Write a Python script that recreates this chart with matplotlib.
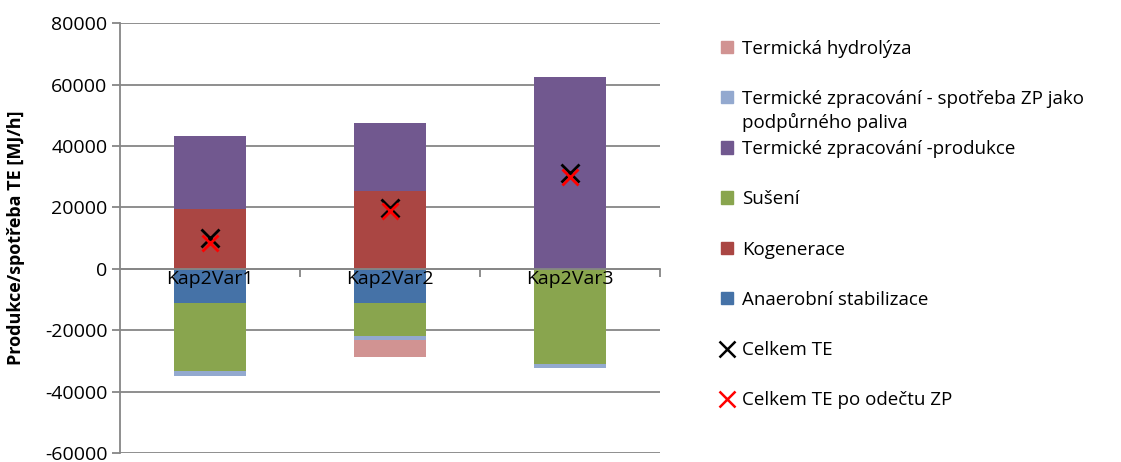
import matplotlib
matplotlib.use('Agg')
import matplotlib.pyplot as plt
from matplotlib.lines import Line2D
from matplotlib.patches import Patch
import numpy as np

plt.rcParams['font.family'] = ['Open Sans', 'DejaVu Sans']
plt.rcParams['axes.unicode_minus'] = False

# kategorie a hodnoty [MJ/h]
kategorie = ['Kap2Var1', 'Kap2Var2', 'Kap2Var3']
anaerobni = [-11200, -11200, 0]
kogenerace = [19600, 25400, 0]
suseni = [-22100, -10800, -31100]
produkce = [23750, 22100, 62300]
spotreba_zp = [-1700, -1100, -1300]
hydrolyza = [0, -5650, 0]
celkem_te = [10050, 19850, 31200]
celkem_po_zp = [8350, 18750, 29900]

serie = [
    ('Anaerobní stabilizace', anaerobni, '#4572A7'),
    ('Kogenerace', kogenerace, '#AA4643'),
    ('Sušení', suseni, '#89A54E'),
    ('Termické zpracování -produkce', produkce, '#71588F'),
    ('Termické zpracování - spotřeba ZP jako', spotreba_zp, '#93A9CF'),
    ('Termická hydrolýza', hydrolyza, '#D19392'),
]

fig = plt.figure(figsize=(11.21, 4.62), dpi=100)
ax = fig.add_axes([0.107, 0.0195, 0.482, 0.9305])

x = np.arange(len(kategorie))
pos = np.zeros(len(x))
neg = np.zeros(len(x))
for nazev, hodnoty, barva in serie:
    h = np.array(hodnoty, dtype=float)
    spodek = np.where(h >= 0, pos, neg)
    ax.bar(x, h, 0.4, bottom=spodek, color=barva, zorder=2)
    pos += np.where(h >= 0, h, 0)
    neg += np.where(h < 0, h, 0)

ax.plot(x, celkem_te, 'x', color='black', ms=13, mew=2, zorder=3)
ax.plot(x, celkem_po_zp, 'x', color='red', ms=12, mew=2, zorder=4)

ax.set_xlim(-0.5, 2.5)
ax.set_ylim(-60000, 80000)
ax.set_yticks(np.arange(-60000, 80001, 20000))
ax.yaxis.grid(True, color='#868686', lw=1.3, zorder=0)
ax.set_axisbelow(True)

for s in ['top', 'right']:
    ax.spines[s].set_visible(False)
ax.spines['left'].set_color('#868686')
ax.spines['left'].set_linewidth(1.3)
ax.spines['bottom'].set_position(('data', 0))
ax.spines['bottom'].set_color('#868686')
ax.spines['bottom'].set_linewidth(1.3)

# popisky kategorií leží nad sloupci, proto přes annotate
ax.set_xticks(x)
ax.set_xticklabels([])
for xi, k in zip(x, kategorie):
    ax.annotate(k, (xi, 0), xytext=(0, -1), textcoords='offset points',
                ha='center', va='top', fontsize=14, zorder=5)
ax.set_xticks([0.5, 1.5, 2.5], minor=True)
ax.tick_params(axis='x', which='major', length=0)
ax.tick_params(axis='x', which='minor', length=6, color='#868686', width=1.3)
ax.tick_params(axis='y', length=6, color='#868686', width=1.3, labelsize=14, pad=3)
ax.set_ylabel('Produkce/spotřeba TE [MJ/h]', fontsize=13, fontweight='bold')
ax.yaxis.set_label_coords(-0.175, 0.5)

# legenda v obráceném pořadí
handles = [Patch(color=b) for _, _, b in serie][::-1]
labels = [n for n, _, _ in serie][::-1]
handles += [Line2D([], [], ls='', marker='x', color='black', ms=12, mew=1.8),
            Line2D([], [], ls='', marker='x', color='red', ms=12, mew=1.8)]
labels += ['Celkem TE', 'Celkem TE po odečtu ZP']
leg = fig.legend(handles, labels, loc='upper left', bbox_to_anchor=(0.628, 0.951),
                 frameon=False, fontsize=13.5, labelspacing=1.72,
                 handlelength=0.65, handleheight=0.65, handletextpad=0.5)

fig.canvas.draw()
t = leg.get_texts()[1]
bb = t.get_window_extent().transformed(fig.transFigure.inverted())
fig.text(bb.x0, bb.y0 - 0.012, 'podpůrného paliva', fontsize=13.5, va='top', ha='left')

fig.savefig('out.png', dpi=100)
